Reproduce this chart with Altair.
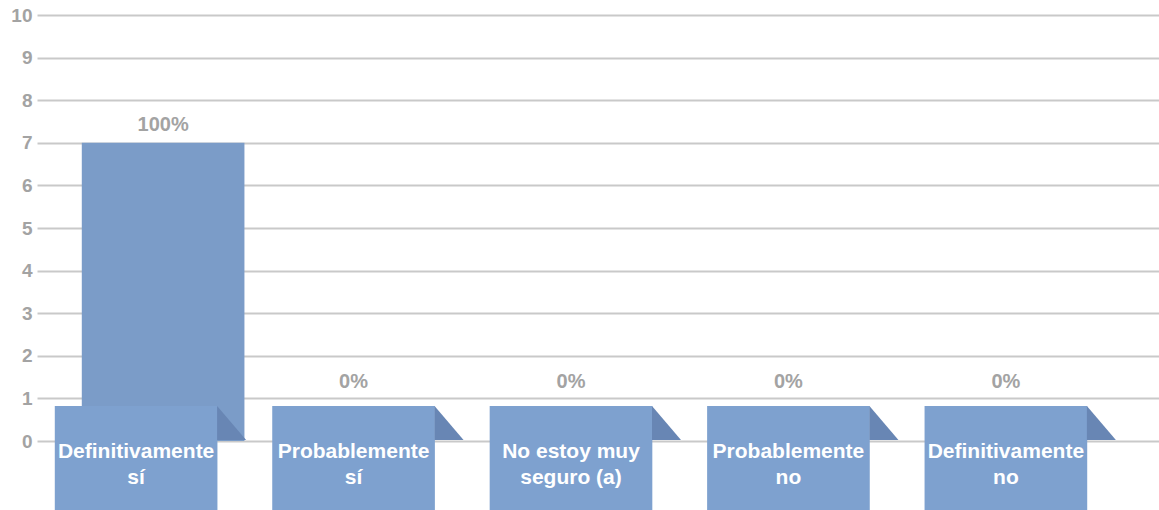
import altair as alt
import pandas as pd

categories = ["Definitivamente sí", "Probablemente sí", "No estoy muy seguro (a)",
              "Probablemente no", "Definitivamente no"]
box_labels = ["Definitivamente\nsí", "Probablemente\nsí", "No estoy muy\nseguro (a)",
              "Probablemente\nno", "Definitivamente\nno"]
values = [7, 0, 0, 0, 0]
pct_labels = ["100%", "0%", "0%", "0%", "0%"]
y_ticks = list(range(0, 11))

df = pd.DataFrame({"cat": categories, "box": box_labels, "value": values, "pct": pct_labels})

FONT = "Liberation Sans"
GRAY = "#a3a3a3"

x = alt.X("cat:N", sort=categories,
          scale=alt.Scale(paddingInner=0.252, paddingOuter=0.206), axis=None)

base = alt.Chart(df)

bars = base.mark_bar(color="#7b9cc8").encode(
    x=x,
    y=alt.Y("value:Q",
            scale=alt.Scale(domain=[0, 10], nice=False, zero=True),
            axis=alt.Axis(values=y_ticks, title=None, domain=False, ticks=False,
                          labelFont=FONT, labelFontSize=19, labelFontWeight="bold",
                          labelColor=GRAY, labelPadding=5,
                          gridColor="#c9c9c9", gridWidth=2)),
)

boxes = base.mark_bar(color="#7ea1cf", xOffset=-27).encode(
    x=x,
    y=alt.datum(0.82),
    y2=alt.datum(-2.2),
)

tri = base.mark_point(
    shape="M-1,-1 L0.706,1 L-1,1 Z", size=1156, filled=True,
    fill="#6886b4", strokeWidth=0, opacity=1, xOffset=71,
).encode(
    x=x,
    y=alt.datum(0.42),
)

box_text = base.mark_text(
    font=FONT, fontSize=21, fontWeight="bold", color="#ffffff",
    align="center", baseline="alphabetic", lineBreak="\n", lineHeight=26,
    dy=17, xOffset=-27,
).encode(
    x=x,
    y=alt.datum(0),
    text="box:N",
)

pos_labels = base.transform_filter(alt.datum.value > 0).mark_text(
    font=FONT, fontSize=20, fontWeight="bold", color=GRAY,
    align="center", baseline="alphabetic", dy=-12,
).encode(x=x, y="value:Q", text="pct:N")

zero_labels = base.transform_filter(alt.datum.value == 0).mark_text(
    font=FONT, fontSize=20, fontWeight="bold", color=GRAY,
    align="center", baseline="alphabetic", dy=-53, xOffset=-27,
).encode(x=x, y="value:Q", text="pct:N")

chart = alt.layer(bars, boxes, tri, box_text, pos_labels, zero_labels).properties(
    width=1122, height=426,
    autosize=alt.AutoSizeParams(type="none"),
    padding={"left": 37, "top": 15, "right": 0, "bottom": 69},
    view=alt.ViewBackground(stroke="transparent", strokeWidth=0),
).configure_view(stroke="transparent", strokeWidth=0).configure(background="white")

chart.save("out.html", embed_options={"renderer": "svg", "actions": False})
